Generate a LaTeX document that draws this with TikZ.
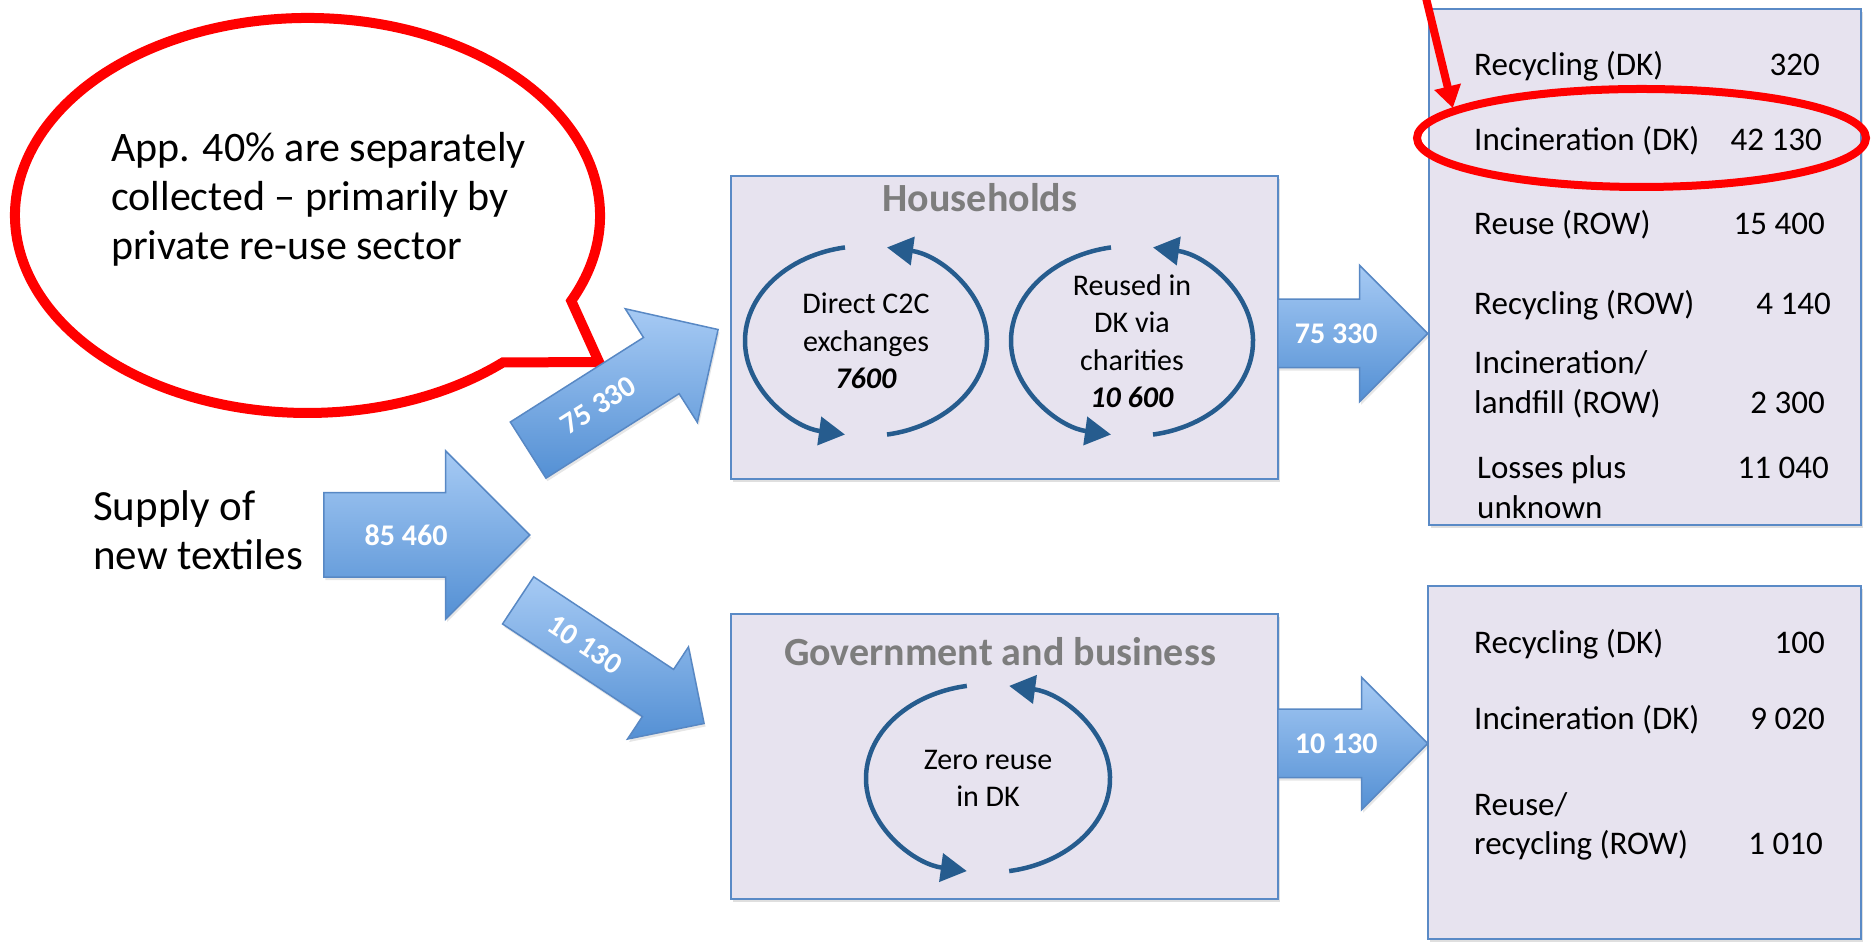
\documentclass[tikz,border=0pt]{standalone}
\usepackage{fontspec}
\setmainfont{Carlito}
\usetikzlibrary{shapes.arrows, shapes.geometric, shadows, arrows.meta, calc}
\definecolor{boxblue}{RGB}{90,138,198}
\definecolor{boxfill}{RGB}{231,227,239}
\definecolor{flowedge}{RGB}{88,136,196}
\definecolor{flowlight}{RGB}{166,202,244}
\definecolor{flowdark}{RGB}{84,144,212}
\definecolor{cycblue}{RGB}{38,92,142}
\definecolor{titlegray}{RGB}{125,125,125}
\definecolor{callred}{RGB}{255,0,0}

\begin{document}
\begin{tikzpicture}[
    x=1pt, y=1pt,
    box/.style={rectangle, draw=boxblue, line width=2pt, fill=boxfill, inner sep=0pt, anchor=south west, drop shadow={shadow xshift=1.5pt, shadow yshift=-3pt, opacity=0.25}},
    title/.style={font=\fontsize{40}{48}\selectfont\bfseries, text=titlegray},
    flow/.style={single arrow, draw=flowedge, line width=1.5pt, top color=flowlight, bottom color=flowdark, anchor=tail, text height=20pt, text depth=0pt, inner xsep=0pt, drop shadow={shadow xshift=1.5pt, shadow yshift=-3pt, opacity=0.2}},
    flowtext/.style={text=white, inner sep=0pt, font=\fontsize{30}{36}\selectfont\bfseries},
    cyc/.style={draw=cycblue, line width=4.5pt, -{Triangle[length=26pt, width=28pt]}},
    cyctext/.style={align=center, font=\fontsize{30}{37.5}\selectfont},
    big/.style={align=left, anchor=base west, inner sep=0pt, font=\fontsize{42}{49}\selectfont},
    entry/.style={anchor=base west, inner sep=0pt, font=\fontsize{33}{40}\selectfont},
    amount/.style={anchor=base east, inner sep=0pt, font=\fontsize{33}{40}\selectfont},
    callout/.style={draw=callred, line width=10pt, fill=white}
]
    \useasboundingbox (0,0) rectangle (1871,944);

    % Callout
    \draw[callout] (307.5,728.5) ++(-25.6:292.5 and 197.5) arc[start angle=-25.6, end angle=311.9, x radius=292.5, y radius=197.5] -- (599,582) -- cycle;
    \node[big] (note) at (111,684) {App. 40\% are separately\\collected – primarily by\\private re-use sector};

    % Supply
    \node[big, font=\fontsize{43}{49}\selectfont] (supply) at (93,374) {Supply of\\new textiles};

    % Boxes
    \node[box, minimum width=547, minimum height=303] (hh) at (730,464) {};
    \node[box, minimum width=547, minimum height=285] (gb) at (730,44) {};
    \node[box, minimum width=432, minimum height=516] (out1) at (1428,418) {};
    \node[box, minimum width=433, minimum height=353] (out2) at (1427,4) {};
    \node[title] (hhtitle) at (980,746) {Households};
    \node[title] (gbtitle) at (1000,292) {Government and business};

    % Flows
    \node[flow, minimum height=206, inner ysep=31.5pt, single arrow head extend=42pt] (fsupply) at (323,409) {};
    \node[flow, rotate=32.4, minimum height=225, inner ysep=22.5pt, single arrow head extend=34pt] (fhh) at (527.5,493.5) {};
    \node[flow, rotate=-33.5, minimum height=223, inner ysep=17.5pt, single arrow head extend=27pt] (fgb) at (517.5,344) {};
    \node[flow, minimum height=150, inner ysep=23.5pt, single arrow head extend=34pt] (fhhout) at (1277,610.5) {};
    \node[flow, minimum height=150, inner ysep=23.5pt, single arrow head extend=32pt] (fgbout) at (1277,200.5) {};
    \node[flowtext] (lsupply) at ($(fsupply.tail)!0.40!(fsupply.tip)$) {85 460};
    \node[flowtext, rotate=32.4] (lhh) at ($(fhh.tail)!0.37!(fhh.tip)$) {75 330};
    \node[flowtext, rotate=-33.5] (lgb) at ($(fgb.tail)!0.36!(fgb.tip)$) {10 130};
    \node[flowtext] (lhhout) at ($(fhhout.tail)!0.39!(fhhout.tip)$) {75 330};
    \node[flowtext] (lgbout) at ($(fgbout.tail)!0.39!(fgbout.tip)$) {10 130};

    % Reuse loops
    \coordinate (c1) at (866,603);
    \coordinate (c2) at (1132,603);
    \coordinate (c3) at (988,165.5);
    \draw[cyc] (c1) ++(100:121 and 95) arc[start angle=100, end angle=260, x radius=121, y radius=95];
    \draw[cyc] (c1) ++(280:121 and 95) arc[start angle=280, end angle=440, x radius=121, y radius=95];
    \draw[cyc] (c2) ++(100:121 and 95) arc[start angle=100, end angle=260, x radius=121, y radius=95];
    \draw[cyc] (c2) ++(280:121 and 95) arc[start angle=280, end angle=440, x radius=121, y radius=95];
    \draw[cyc] (c3) ++(100:122 and 94) arc[start angle=100, end angle=260, x radius=122, y radius=94];
    \draw[cyc] (c3) ++(280:122 and 94) arc[start angle=280, end angle=440, x radius=122, y radius=94];
    \node[cyctext] (c2c) at (c1) {Direct C2C\\exchanges\\\textbf{\textit{7600}}};
    \node[cyctext] (charity) at (c2) {Reused in\\DK via\\charities\\\textbf{\textit{10 600}}};
    \node[cyctext] (zero) at (c3) {Zero reuse\\in DK};

    % Households outlets
    \node[entry] (o1a) at (1474,868) {Recycling (DK)};
    \node[amount] (o1av) at (1820,868) {320};
    \node[entry] (o1b) at (1474,793) {Incineration (DK)};
    \node[amount] (o1bv) at (1822,793) {42 130};
    \node[entry] (o1c) at (1474,709) {Reuse (ROW)};
    \node[amount] (o1cv) at (1825,709) {15 400};
    \node[entry] (o1d) at (1474,629) {Recycling (ROW)};
    \node[amount] (o1dv) at (1831,629) {4 140};
    \node[entry] (o1e) at (1474,570) {Incineration/};
    \node[entry] (o1f) at (1474,530) {landfill (ROW)};
    \node[amount] (o1fv) at (1825,530) {2 300};
    \node[entry] (o1g) at (1477,465) {Losses plus};
    \node[entry] (o1h) at (1477,425) {unknown};
    \node[amount] (o1gv) at (1829,465) {11 040};

    % Government outlets
    \node[entry] (o2a) at (1474,290) {Recycling (DK)};
    \node[amount] (o2av) at (1825,290) {100};
    \node[entry] (o2b) at (1474,214) {Incineration (DK)};
    \node[amount] (o2bv) at (1825,214) {9 020};
    \node[entry] (o2c) at (1474,128) {Reuse/};
    \node[entry] (o2d) at (1474,89) {recycling (ROW)};
    \node[amount] (o2dv) at (1823,89) {1 010};

    % Highlight
    \node[ellipse, draw=callred, line width=8pt, minimum width=449, minimum height=98, inner sep=0pt] (hl) at (1641.5,806) {};
    \coordinate (pin) at (1426,946);
    \draw[callred, line width=8pt, -{Triangle[length=22pt, width=26pt]}] (pin) -- (hl.171);
\end{tikzpicture}
\end{document}
